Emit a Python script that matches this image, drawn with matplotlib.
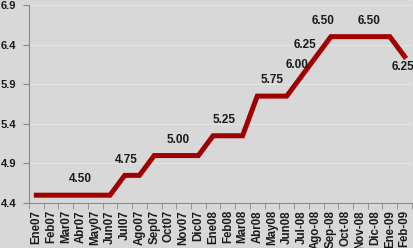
import numpy as np
import matplotlib
matplotlib.use('Agg')
import matplotlib.pyplot as plt

# Data
months = ['Ene07', 'Feb07', 'Mar07', 'Abr07', 'May07', 'Jun07', 'Jul07', 'Ago07',
          'Sep07', 'Oct07', 'Nov07', 'Dic07', 'Ene08', 'Feb08', 'Mar08', 'Abr08',
          'May08', 'Jun08', 'Jul-08', 'Ago-08', 'Sep-08', 'Oct-08', 'Nov-08',
          'Dic-08', 'Ene-09', 'Feb-09']
rates = [4.50, 4.50, 4.50, 4.50, 4.50, 4.50, 4.75, 4.75,
         5.00, 5.00, 5.00, 5.00, 5.25, 5.25, 5.25, 5.75,
         5.75, 5.75, 6.00, 6.25, 6.50, 6.50, 6.50,
         6.50, 6.50, 6.25]
y_ticks = [4.4, 4.9, 5.4, 5.9, 6.4, 6.9]

# which points get a value label, and the label offset in points
labelled = {'Abr07': (0, 7), 'Jul07': (1, 7), 'Nov07': (-4, 7), 'Feb08': (-3, 7),
            'May08': (0, 7), 'Jul-08': (-3, 4), 'Ago-08': (-8, 4), 'Sep-08': (-6, 7),
            'Nov-08': (6, 7), 'Feb-09': (-1, -12)}

bg = '#d8d8d8'
plt.rcParams['font.family'] = ['Liberation Sans', 'DejaVu Sans']

fig = plt.figure(figsize=(4.14, 2.48), dpi=100, facecolor=bg)
ax = fig.add_axes([0.070, 0.181, 0.925, 0.799])
ax.set_facecolor(bg)

x = np.arange(len(months))
ax.plot(x, rates, color='#a00000', linewidth=3.6, solid_joinstyle='miter', zorder=3)

for i, (m, v) in enumerate(zip(months, rates)):
    if m in labelled:
        ax.annotate(f'{v:.2f}', (i, v), xytext=labelled[m], textcoords='offset points',
                    ha='center', va='bottom', fontsize=8.5, fontweight='bold',
                    color='#1a1a1a', zorder=4)

ax.set_xlim(-0.5, len(months) - 0.5)
ax.set_ylim(4.4, 6.9)
ax.set_yticks(y_ticks)
ax.set_yticklabels([f'{t:.1f}' for t in y_ticks], fontsize=8, fontweight='bold', color='#1a1a1a')
ax.set_xticks(x)
ax.set_xticklabels(months, rotation=90, fontsize=8.3, fontweight='bold', color='#1a1a1a')
ax.set_xticks(np.arange(-0.5, len(months), 1), minor=True)
ax.tick_params(axis='x', which='major', length=0, pad=5)
ax.tick_params(axis='x', which='minor', length=4, color='#888888')
ax.tick_params(axis='y', length=4, color='#888888', pad=5)

ax.grid(axis='y', color='#e4e4e4', linewidth=0.8, zorder=0)
for s in ['top', 'right']:
    ax.spines[s].set_visible(False)
ax.spines['left'].set_color('#888888')
ax.spines['bottom'].set_color('#888888')

fig.savefig('out.png', dpi=100, facecolor=bg)
